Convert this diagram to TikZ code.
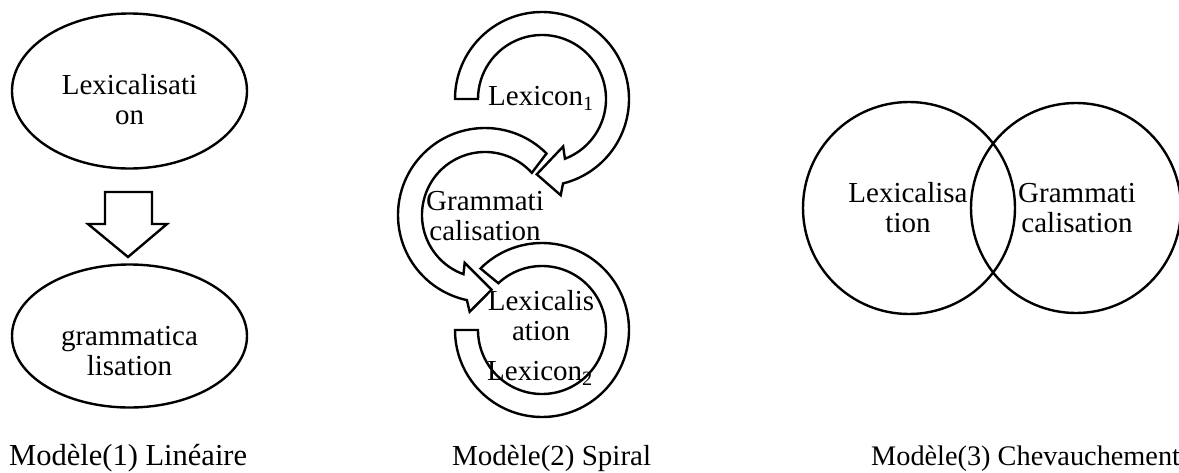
\documentclass[tikz,border=0pt]{standalone}
\usepackage{fontspec}
\setmainfont{Liberation Serif}
\usetikzlibrary{calc,shapes.geometric}
\tikzset{
  outline/.style={draw=black, line width=2.4pt, line join=miter},
  band/.style={draw=black, line width=2.4pt, fill=white, line join=miter},
  txt/.style={align=center, inner sep=0pt, font=\fontsize{29}{30}\selectfont},
  captxt/.style={anchor=base west, inner sep=0pt, font=\fontsize{29}{30}\selectfont},
}
\begin{document}
\begin{tikzpicture}[x=1pt, y=-1pt]
\useasboundingbox (0,0) rectangle (1179,472);
% ---------- Model 1 ----------
\node[outline, ellipse, minimum width=235pt, minimum height=155pt, inner sep=0pt] (lexA) at (129.5,91) {};
\node[outline, ellipse, minimum width=235pt, minimum height=143pt, inner sep=0pt] (gramA) at (129.5,336) {};
\node[txt] (lexAt) at (129.5,100) {Lexicalisati\\on};
\node[txt] (gramAt) at (129.5,351) {grammatica\\lisation};
\draw[outline] (105,192) -- (152,192) -- (152,224) -- (167,224) -- (128,257) -- (88,224) -- (105,224) -- cycle;
\node[captxt, font=\fontsize{30.5}{31}\selectfont] (cap1) at (9,465) {Modèle(1) Linéaire};
% ---------- Model 2 ----------
\coordinate (c1) at (542,99);
\coordinate (c2) at (485,215);
\coordinate (c3) at (542,330);
% top arc (Lexicon1)
\draw[band] ($(c1)+(180:87pt)$) arc[start angle=180, end angle=-76, radius=87pt]
  -- ($(c1)+(-79:98pt)$) -- ($(c1)+(-94:75.5pt)$) -- ($(c1)+(-66:52pt)$)
  -- ($(c1)+(-69:64pt)$) arc[start angle=-69, end angle=180, radius=64pt] -- cycle;
% middle arc (Grammaticalisation)
\draw[band] ($(c2)+(45:87pt)$) arc[start angle=45, end angle=258, radius=87pt]
  -- ($(c2)+(261:98pt)$) -- ($(c2)+(275:75pt)$) -- ($(c2)+(247:52pt)$)
  -- ($(c2)+(250:63pt)$) arc[start angle=250, end angle=42, radius=63pt] -- cycle;
% bottom arc (Lexicon2)
\draw[band] ($(c3)+(180:87pt)$) arc[start angle=180, end angle=495, radius=87pt]
  -- ($(c3)+(493:64pt)$) arc[start angle=493, end angle=180, radius=64pt] -- cycle;
\node[txt] (lex1) at (541,98) {Lexicon\textsubscript{1}};
\node[txt] (gram2) at (485,216) {Grammati\\calisation};
\node[txt] (lexB) at (541,316) {Lexicalis\\ation};
\node[txt] (lex2) at (540,373) {Lexicon\textsubscript{2}};
\node[captxt] (cap2) at (452,465) {Modèle(2) Spiral};
% ---------- Model 3 ----------
\node[outline, circle, minimum size=212pt, inner sep=0pt] (lexC) at (909,208) {};
\node[outline, circle, minimum size=210pt, inner sep=0pt] (gramC) at (1076,208) {};
\node[txt] (lexCt) at (908,208) {Lexicalisa\\tion};
\node[txt] (gramCt) at (1077,208) {Grammati\\calisation};
\node[captxt, font=\fontsize{28.3}{29}\selectfont] (cap3) at (871,465) {Modèle(3) Chevauchement};
\end{tikzpicture}
\end{document}
